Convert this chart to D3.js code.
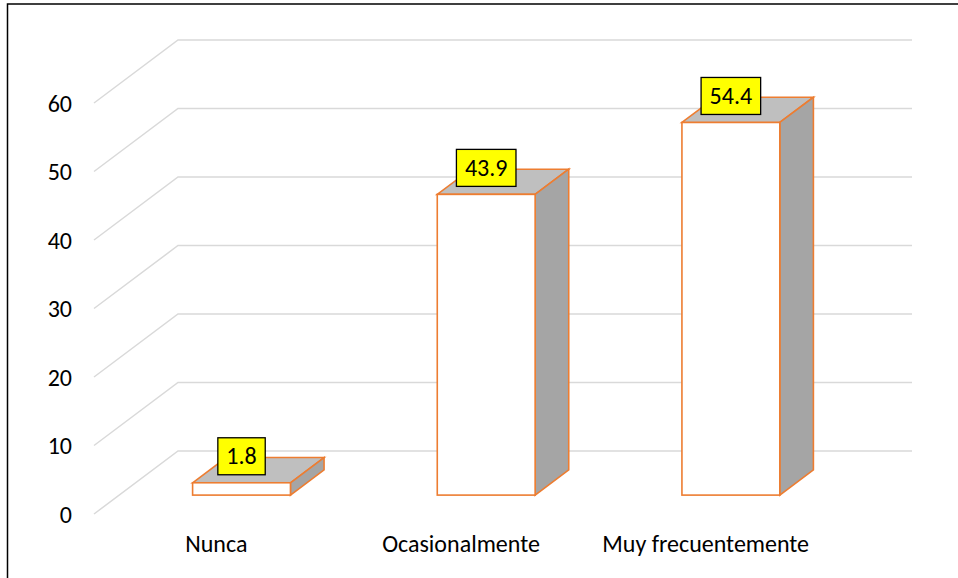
<!DOCTYPE html>
<html>
<head>
<meta charset="utf-8">
<script src="https://cdn.jsdelivr.net/npm/d3@7"></script>
<style>
  html, body { margin: 0; padding: 0; background: #fff; }
  svg { display: block; }
  text { font-family: Calibri, Carlito, "Open Sans", sans-serif; }
</style>
</head>
<body>
<svg id="chart" width="958" height="578"></svg>
<script>
// Chart data
const categories = ["Nunca", "Ocasionalmente", "Muy frecuentemente"];
const values = [1.8, 43.9, 54.4];
const yTicks = [0, 10, 20, 30, 40, 50, 60];

const W = 958, H = 578;
const FONT = 24;
const svg = d3.select("#chart");

// Outer chart frame
svg.append("rect")
  .attr("x", 7.5).attr("y", 4)
  .attr("width", W + 10).attr("height", H + 10)
  .attr("fill", "#fff").attr("stroke", "#000").attr("stroke-width", 1.5);

// Front plane of the plot (floor front edge) and depth vector
const front = { left: 94, right: 828 };
const depth = { dx: 84, dy: -63 };
const barDepth = { start: 0.3, end: 0.7 };

const x = d3.scaleBand()
  .domain(categories)
  .range([front.left, front.right])
  .paddingInner(0.6)
  .paddingOuter(0.3);

const y = d3.scaleLinear().domain([0, 60]).range([514, 103]);

// Gridlines: diagonal on the side wall, horizontal on the back wall
const grid = svg.append("g").attr("fill", "none")
  .attr("stroke", "#d9d9d9").attr("stroke-width", 1.5);
grid.selectAll("path").data(yTicks).join("path")
  .attr("d", d => {
    const p = d3.path();
    p.moveTo(front.left, y(d));
    p.lineTo(front.left + depth.dx, y(d) + depth.dy);
    p.lineTo(front.right + depth.dx, y(d) + depth.dy);
    return p.toString();
  });

// Y axis labels
const yAxis = svg.append("g")
  .attr("transform", `translate(${front.left},0)`)
  .call(d3.axisLeft(y).tickValues(yTicks).tickSize(0).tickPadding(22).tickFormat(d3.format("d")));
yAxis.select(".domain").remove();
yAxis.selectAll("text")
  .attr("font-size", FONT).attr("fill", "#000").attr("dy", "0.34em")
  .style("font-family", "Calibri, Carlito, 'Open Sans', sans-serif");

// Category labels
const xAxis = svg.append("g")
  .attr("transform", `translate(0,${y(0)})`)
  .call(d3.axisBottom(x).tickSize(0).tickPadding(21));
xAxis.select(".domain").remove();
xAxis.selectAll("text")
  .attr("font-size", FONT).attr("fill", "#000")
  .style("font-family", "Calibri, Carlito, 'Open Sans', sans-serif");

// 3D bars
const ox = depth.dx * barDepth.start, oy = depth.dy * barDepth.start;
const bx = depth.dx * (barDepth.end - barDepth.start), by = depth.dy * (barDepth.end - barDepth.start);

const bars = svg.append("g").selectAll("g").data(categories.map((c, i) => ({ c, v: values[i] })))
  .join("g")
  .attr("stroke", "#ed7d31").attr("stroke-width", 1.6).attr("stroke-linejoin", "miter");

const geom = d => {
  const x0 = x(d.c) + ox, x1 = x0 + x.bandwidth();
  const yb = y(0) + oy, yt = y(d.v) + oy;
  return { x0, x1, yb, yt };
};

// top face
bars.append("path")
  .attr("fill", "#bfbfbf")
  .attr("d", d => {
    const g = geom(d);
    return `M${g.x0},${g.yt}L${g.x0 + bx},${g.yt + by}L${g.x1 + bx},${g.yt + by}L${g.x1},${g.yt}Z`;
  });
// side face
bars.append("path")
  .attr("fill", "#a5a5a5")
  .attr("d", d => {
    const g = geom(d);
    return `M${g.x1},${g.yt}L${g.x1 + bx},${g.yt + by}L${g.x1 + bx},${g.yb + by}L${g.x1},${g.yb}Z`;
  });
// front face
bars.append("rect")
  .attr("fill", "#fff")
  .attr("x", d => geom(d).x0)
  .attr("y", d => geom(d).yt)
  .attr("width", x.bandwidth())
  .attr("height", d => geom(d).yb - geom(d).yt);

// Data labels
const labels = svg.append("g").selectAll("g").data(categories.map((c, i) => ({ c, v: values[i] })))
  .join("g");
labels.each(function(d) {
  const g = geom(d);
  const cx = (g.x0 + g.x1) / 2;
  const sel = d3.select(this);
  const t = sel.append("text")
    .attr("font-size", FONT).attr("fill", "#000")
    .attr("text-anchor", "middle")
    .text(d3.format(".1f")(d.v));
  const tw = t.node().getComputedTextLength();
  const bw = tw + 17, bh = 37;
  const bottom = g.yt - 8;
  sel.insert("rect", "text")
    .attr("x", cx - bw / 2).attr("y", bottom - bh)
    .attr("width", bw).attr("height", bh)
    .attr("fill", "#ffff00").attr("stroke", "#000").attr("stroke-width", 1.3);
  t.attr("x", cx).attr("y", bottom - bh / 2).attr("dy", "0.34em");
});
</script>
</body>
</html>
